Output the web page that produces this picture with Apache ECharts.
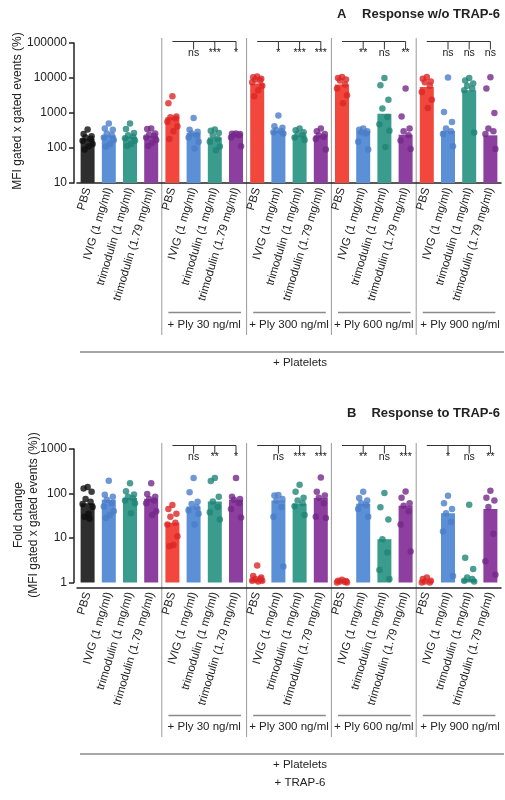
<!DOCTYPE html>
<html>
<head>
<meta charset="utf-8">
<script src="https://cdn.jsdelivr.net/npm/echarts@6/dist/echarts.min.js"></script>
<style>html,body{margin:0;padding:0;background:#fff;}#c{width:505px;height:800px;}</style>
</head>
<body>
<div id="c"></div>
<script>
// ---------- data ----------
const treatments = ["PBS", "IVIG (1 mg/ml)", "trimodulin (1 mg/ml)", "trimodulin (1.79 mg/ml)"];
const groupNames = ["", "+ Ply 30 ng/ml", "+ Ply 300 ng/ml", "+ Ply 600 ng/ml", "+ Ply 900 ng/ml"];
const categories = [].concat(treatments, treatments, treatments, treatments, treatments);

const yTicksA = [10, 100, 1000, 10000, 100000];
const yTicksB = [1, 10, 100, 1000];

// Panel A: Response w/o TRAP-6 (bar = median, points = donors)
const barsA = [185, 230, 210, 220, 750, 270, 200, 250, 7000, 310, 230, 230, 6500, 300, 950, 240, 5500, 310, 4500, 230];
const pointsA = [
  [340, 250, 215, 200, 185, 160, 130, 110, 90],
  [500, 360, 330, 260, 230, 200, 170, 130, 110],
  [500, 350, 270, 230, 210, 190, 160, 130, 115],
  [360, 350, 260, 240, 220, 200, 170, 140, 115],
  [3000, 1900, 800, 750, 700, 560, 420, 300, 180],
  [720, 330, 290, 260, 230, 200, 150, 96],
  [340, 310, 270, 230, 180, 150, 110, 86],
  [260, 255, 250, 240, 230, 200, 112],
  [11000, 10500, 9500, 9000, 8500, 7500, 6000, 4500, 3000],
  [850, 420, 380, 320, 300, 280, 260],
  [360, 320, 280, 250, 230, 200, 170],
  [360, 300, 250, 230, 210, 180, 90],
  [10700, 10000, 9000, 8500, 6500, 5000, 3200, 1900],
  [360, 330, 300, 280, 260, 150, 91],
  [10000, 6200, 2400, 1340, 770, 475, 310, 107],
  [5000, 800, 360, 300, 230, 165, 93],
  [10700, 9500, 8000, 7500, 6000, 4000, 2400, 1400],
  [10300, 1070, 550, 360, 300, 250, 112],
  [10000, 8500, 7000, 6000, 5000, 4500, 275],
  [10500, 5000, 1000, 360, 300, 250, 93]
];
const sigA = [null, ["ns", "***", "*"], ["*", "***", "***"], ["**", "ns", "**"], ["ns", "ns", "ns"]];

// Panel B: Response to TRAP-6 (fold change)
const barsB = [60, 72, 79, 76, 22, 51, 66, 72, 1.2, 70, 59, 79, 1.05, 59, 9.4, 53, 1.05, 36, 1.2, 45];
const pointsB = [
  [140, 130, 110, 75, 65, 58, 50, 35, 30, 27],
  [193, 94, 85, 72, 60, 51, 40, 33, 28],
  [170, 112, 95, 85, 78, 70, 60, 36],
  [170, 98, 85, 75, 70, 60, 40, 33],
  [55, 45, 35, 30, 22, 20, 11, 7, 6.5],
  [222, 107, 65, 58, 50, 42, 35, 20],
  [222, 190, 85, 66, 50, 38, 26],
  [222, 85, 75, 72, 60, 45, 29],
  [2.4, 1.4, 1.3, 1.2, 1.2, 1.1, 1.1, 1.05],
  [93, 90, 75, 70, 50, 30, 2.3],
  [157, 110, 80, 70, 60, 52, 33],
  [228, 110, 90, 80, 60, 30, 28],
  [1.15, 1.1, 1.08, 1.05, 1.02, 1.0, 1.0],
  [110, 79, 70, 60, 55, 45, 30],
  [102, 49, 26, 9.4, 4.7, 1.9, 1.2],
  [111, 80, 60, 53, 40, 20, 5],
  [1.3, 1.2, 1.1, 1.05, 1.0, 1.0],
  [89, 60, 45, 36, 23, 14, 1.4],
  [56, 3.6, 2.0, 1.3, 1.2, 1.1, 1.05],
  [115, 80, 70, 50, 12.4, 3.0, 1.5]
];
const sigB = [null, ["ns", "**", "*"], ["ns", "***", "***"], ["**", "ns", "***"], ["*", "ns", "**"]];

// ---------- styling ----------
const FONT = "Liberation Sans, Arial, Helvetica, sans-serif";
const barColors = ["#2e2e2e", "#5b8fd6", "#3a9c8c", "#8c3f9e"];
const dotColors = ["#0e0e0e", "#4a7dc8", "#1f8577", "#74288a"];
const redBar = "#f2473c", redDot = "#dc2626";
const jitter = [0, -4, 4, -2, 3, -5, 5, 1, -3, 2];

function colorOf(i, dot) {
  const t = i % 4, g = Math.floor(i / 4);
  if (t === 0 && g > 0) return dot ? redDot : redBar;
  return dot ? dotColors[t] : barColors[t];
}
function barData(vals) {
  return vals.map((v, i) => ({ value: v, itemStyle: { color: colorOf(i, false) } }));
}
function dotData(pts) {
  const out = [];
  pts.forEach((arr, i) => {
    arr.forEach((v, k) => {
      out.push({ value: [i, v], symbolOffset: [jitter[k % jitter.length], 0], itemStyle: { color: colorOf(i, true) } });
    });
  });
  return out;
}

const GRID_A = { left: 77, right: 4, top: 43, height: 140 };
const GRID_B = { left: 77, right: 4, top: 449, height: 133.5 };

function xAxisCfg(gi, offset) {
  return {
    type: "category", gridIndex: gi, data: categories, offset: offset,
    axisLine: { lineStyle: { color: "#222", width: 1.5 } },
    axisTick: { show: false },
    axisLabel: { interval: 0, rotate: 73, fontSize: 11.5, color: "#222", fontFamily: FONT, margin: 5 }
  };
}
function yAxisCfg(gi, min, max) {
  return {
    type: "log", gridIndex: gi, logBase: 10, min: min, max: max, offset: 3,
    axisLine: { show: true, lineStyle: { color: "#222", width: 1.5 } },
    axisTick: { show: true, length: 5, lineStyle: { color: "#222", width: 1.5 } },
    minorTick: { show: false },
    splitLine: { show: false },
    axisLabel: { fontSize: 12, color: "#222", fontFamily: FONT, margin: 7, formatter: v => String(v) }
  };
}

const chart = echarts.init(document.getElementById("c"), null, { renderer: "canvas" });
chart.setOption({
  animation: false,
  backgroundColor: "#fff",
  grid: [GRID_A, GRID_B],
  xAxis: [xAxisCfg(0, 0), xAxisCfg(1, 5)],
  yAxis: [yAxisCfg(0, yTicksA[0], yTicksA[yTicksA.length - 1]), yAxisCfg(1, yTicksB[0], yTicksB[yTicksB.length - 1])],
  series: [
    { type: "bar", xAxisIndex: 0, yAxisIndex: 0, barWidth: 14, data: barData(barsA) },
    { type: "scatter", xAxisIndex: 0, yAxisIndex: 0, symbolSize: 6.5, data: dotData(pointsA), z: 3 },
    { type: "bar", xAxisIndex: 1, yAxisIndex: 1, barWidth: 14, data: barData(barsB) },
    { type: "scatter", xAxisIndex: 1, yAxisIndex: 1, symbolSize: 6.5, data: dotData(pointsB), z: 3 }
  ]
});

// ---------- annotations derived from axes ----------
function xPix(ax, i) { return chart.convertToPixel({ xAxisIndex: ax }, i); }
const G = [];
function line(x1, y1, x2, y2, color, w) {
  G.push({ type: "line", shape: { x1, y1, x2, y2 }, style: { stroke: color, lineWidth: w }, silent: true });
}
function text(x, y, s, opts) {
  G.push(Object.assign({ type: "text", x, y, style: Object.assign({ text: s, fill: "#222", font: "12px " + FONT, textAlign: "center", textVerticalAlign: "middle" }, opts || {}) }));
}

function panel(ax, sig, cfg) {
  for (let g = 1; g < 5; g++) {
    const a = 4 * g;
    const xs = xPix(ax, a - 1), xe = xPix(ax, a);
    const sep = (xs + xe) / 2;
    line(sep, cfg.sepTop, sep, cfg.sepBot, "#9a9a9a", 1);
    // bracket
    const x0 = xPix(ax, a), x3 = xPix(ax, a + 3);
    line(x0, cfg.brY, x3, cfg.brY, "#333", 1);
    for (let k = 1; k <= 3; k++) {
      const xk = xPix(ax, a + k);
      line(xk, cfg.brY, xk, cfg.brY + 8, "#333", 1);
      text(xk, cfg.brY + 12, sig[g][k - 1], { font: "10.5px " + FONT });
    }
    // group underline and label
    line(x0 - 4, cfg.ulY, x3 + 5, cfg.ulY, "#8a8a8a", 1.5);
    const nextSep = g < 4 ? (xPix(ax, a + 3) + xPix(ax, a + 4)) / 2 : 504;
    text((sep + nextSep) / 2, cfg.glY, groupNames[g], { font: "11.5px " + FONT });
  }
  line(80, cfg.plY, 504, cfg.plY, "#8a8a8a", 1.5);
}

panel(0, sigA, { sepTop: 38, sepBot: 335, brY: 41.5, ulY: 312.5, glY: 325, plY: 352 });
panel(1, sigB, { sepTop: 443, sepBot: 737, brY: 445.5, ulY: 715.5, glY: 727, plY: 754 });

text(300, 362.5, "+ Platelets", { font: "11.5px " + FONT });
text(300, 764.5, "+ Platelets", { font: "11.5px " + FONT });
text(300, 783, "+ TRAP-6", { font: "11.5px " + FONT });

// titles
text(337, 14, "A", { font: "bold 13px " + FONT, textAlign: "left" });
text(500, 14, "Response w/o TRAP-6", { font: "bold 13px " + FONT, textAlign: "right" });
text(347, 413, "B", { font: "bold 13px " + FONT, textAlign: "left" });
text(500, 413, "Response to TRAP-6", { font: "bold 13px " + FONT, textAlign: "right" });

// y axis names
G.push({ type: "text", x: 18, y: 111, rotation: Math.PI / 2,
  style: { text: "MFI gated x gated events (%)", fill: "#222", font: "12px " + FONT, textAlign: "center", textVerticalAlign: "middle" } });
G.push({ type: "text", x: 26, y: 515, rotation: Math.PI / 2,
  style: { text: "Fold change\n(MFI gated x gated events (%))", fill: "#222", font: "12px " + FONT, textAlign: "center", textVerticalAlign: "middle", lineHeight: 15 } });

chart.setOption({ graphic: G });
</script>
</body>
</html>
